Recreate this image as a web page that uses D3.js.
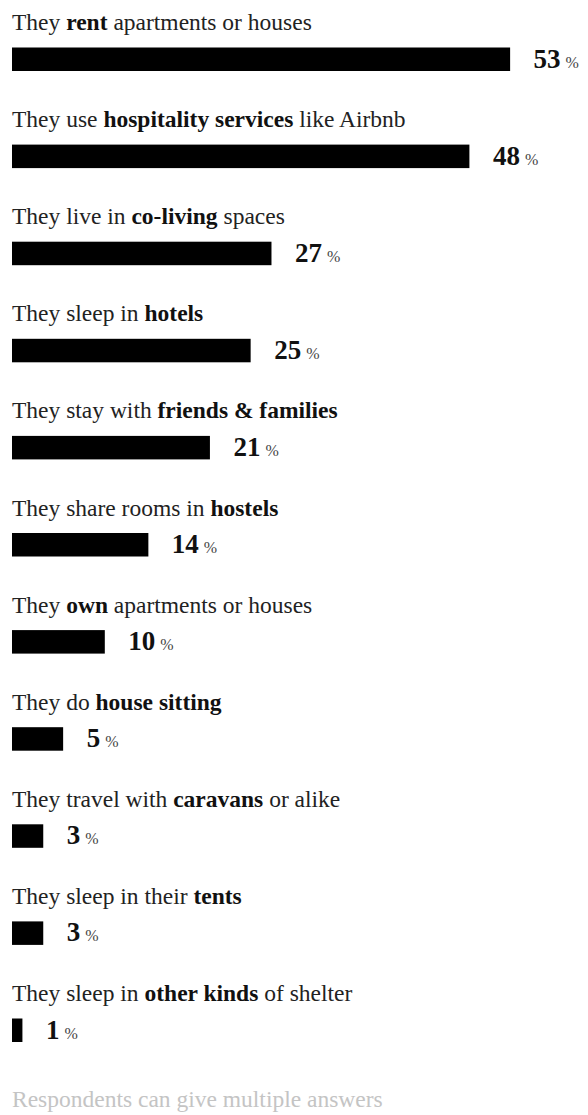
<!DOCTYPE html>
<html>
<head>
<meta charset="utf-8">
<script src="https://cdn.jsdelivr.net/npm/d3@7"></script>
<style>
  html, body { margin: 0; padding: 0; background: #fff; }
  svg { display: block; }
  svg text { font-family: "Liberation Serif", "Times New Roman", Times, "DejaVu Serif", serif; }
</style>
</head>
<body>
<div id="chart"></div>
<script>
// Categories: [text before, bold part, text after]
const labelPre  = ["They ", "They use ", "They live in ", "They sleep in ", "They stay with ", "They share rooms in ", "They ", "They do ", "They travel with ", "They sleep in their ", "They sleep in "];
const labelBold = ["rent", "hospitality services", "co-living", "hotels", "friends & families", "hostels", "own", "house sitting", "caravans", "tents", "other kinds"];
const labelPost = [" apartments or houses", " like Airbnb", " spaces", "", "", "", " apartments or houses", "", " or alike", "", " of shelter"];
// Share of respondents (%)
const values = [52.6, 48.3, 27.4, 25.2, 20.9, 14.4, 9.8, 5.4, 3.3, 3.3, 1.1];
const footnote = "Respondents can give multiple answers";

const W = 588, H = 1115;
const left = 12;
const rowStep = 97.1;
const firstBarTop = 47.5;
const barH = 23.5;

const svg = d3.select("#chart").append("svg")
  .attr("width", W).attr("height", H);

const x = d3.scaleLinear().domain([0, 100]).range([0, 947]);
const y = d3.scaleLinear().domain([0, 1]).range([firstBarTop, firstBarTop + rowStep]);

const data = values.map((v, i) => ({ v, i, pre: labelPre[i], bold: labelBold[i], post: labelPost[i] }));

const rows = svg.selectAll("g.row").data(data).join("g").attr("class", "row");

const lbl = rows.append("text")
  .attr("x", left)
  .attr("y", d => y(d.i) - 17.5)
  .attr("font-size", 23.5)
  .attr("fill", "#222");
lbl.append("tspan").text(d => d.pre);
lbl.append("tspan").attr("font-weight", "bold").attr("fill", "#111").text(d => d.bold);
lbl.append("tspan").text(d => d.post);

rows.append("rect")
  .attr("x", left)
  .attr("y", d => y(d.i))
  .attr("width", d => x(d.v))
  .attr("height", barH)
  .attr("fill", "#000");

const num = rows.append("text")
  .attr("x", d => left + x(d.v) + 23.5)
  .attr("y", d => y(d.i) + 20)
  .attr("fill", "#111");
num.append("tspan")
  .attr("font-size", 27)
  .attr("font-weight", "bold")
  .text(d => Math.round(d.v));
num.append("tspan")
  .attr("dx", 5)
  .attr("font-size", 16)
  .attr("fill", "#444")
  .text("%");

svg.append("text")
  .attr("x", left)
  .attr("y", 1107)
  .attr("font-size", 23.5)
  .attr("fill", "#c4c4c4")
  .text(footnote);
</script>
</body>
</html>
